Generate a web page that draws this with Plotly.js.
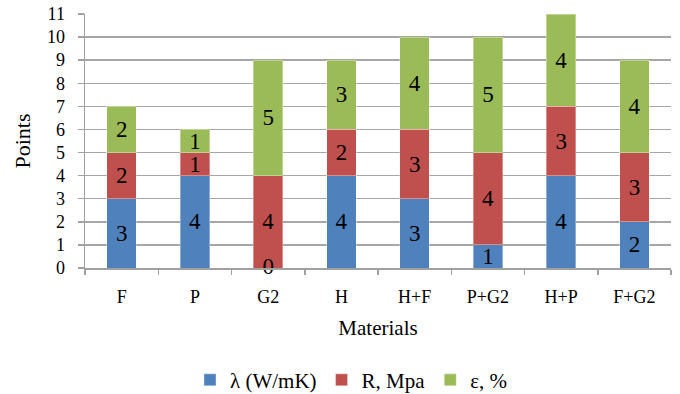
<!DOCTYPE html>
<html>
<head>
<meta charset="utf-8">
<script src="https://cdn.plot.ly/plotly-3.0.1.min.js"></script>
<style>html,body{margin:0;padding:0;background:#fff}#chart{width:680px;height:394px}</style>
</head>
<body>
<div id="chart"></div>
<script>
// Points scored by each material for three properties
const materials = ["F", "P", "G2", "H", "H+F", "P+G2", "H+P", "F+G2"];
const lambdaPts = [3, 4, 0, 4, 3, 1, 4, 2];
const strengthPts = [2, 1, 4, 2, 3, 4, 3, 3];
const strainPts = [2, 1, 5, 3, 4, 5, 4, 4];
const seriesNames = ["λ (W/mK)", "R, Mpa", "ε, %"];
const yTicks = [0, 1, 2, 3, 4, 5, 6, 7, 8, 9, 10, 11];

const serif = "Liberation Serif";
const colors = ["#4f81bd", "#c0504d", "#9bbb59"];
const series = [lambdaPts, strengthPts, strainPts];
const labelFont = { family: serif, size: 23, color: "#000" };

const traces = series.map((vals, i) => ({
  type: "bar",
  name: seriesNames[i],
  x: materials,
  y: vals,
  marker: { color: colors[i], line: { color: "rgba(255,255,255,0.35)", width: 1 } },
  text: vals.map(String),
  textposition: "inside",
  insidetextanchor: "middle",
  constraintext: "none",
  textangle: 0,
  textfont: labelFont,
  insidetextfont: labelFont,
  hoverinfo: "skip"
}));

// Segments with zero height carry no inside text, so their values sit on the baseline
const zeroLabels = { type: "scatter", mode: "text", showlegend: false, hoverinfo: "skip",
  x: [], y: [], text: [], textfont: labelFont, cliponaxis: false };
series.forEach((vals, i) => {
  vals.forEach((v, j) => {
    if (v === 0) {
      let base = 0;
      for (let k = 0; k < i; k++) base += series[k][j];
      zeroLabels.x.push(materials[j]);
      zeroLabels.y.push(base);
      zeroLabels.text.push(String(v));
    }
  });
});
traces.push(zeroLabels);

const layout = {
  width: 680, height: 394,
  margin: { l: 85, r: 9, t: 14, b: 126 },
  paper_bgcolor: "#fff", plot_bgcolor: "#fff",
  barmode: "stack",
  bargap: 0.6,
  font: { family: serif, color: "#000" },
  xaxis: {
    type: "category",
    tickson: "boundaries",
    ticks: "outside", ticklen: 5, tickcolor: "#a0a0a0", tickwidth: 1.5,
    showline: true, linecolor: "#a0a0a0", linewidth: 1.5,
    showgrid: false,
    tickfont: { family: serif, size: 18, color: "#000" },
    ticklabelstandoff: 12,
    title: { text: "Materials", font: { family: serif, size: 21, color: "#000" }, standoff: 14 }
  },
  yaxis: {
    range: [0, 11],
    tickvals: yTicks,
    ticks: "outside", ticklen: 6, tickcolor: "#a0a0a0", tickwidth: 1.5,
    showline: true, linecolor: "#a0a0a0", linewidth: 1.5,
    showgrid: true, gridcolor: "#a6a6a6", gridwidth: 1.5,
    zeroline: false,
    tickfont: { family: serif, size: 18, color: "#000" },
    ticklabelstandoff: 9,
    title: { text: "Points", font: { family: serif, size: 22, color: "#000" }, standoff: 10 }
  },
  showlegend: true,
  legend: {
    orientation: "h",
    xref: "container", yref: "container",
    x: 0.2794, xanchor: "left",
    y: 0.035, yanchor: "middle",
    font: { family: serif, size: 21, color: "#000" },
    traceorder: "normal"
  }
};

Plotly.newPlot("chart", traces, layout, { displayModeBar: false, staticPlot: true });
</script>
</body>
</html>
